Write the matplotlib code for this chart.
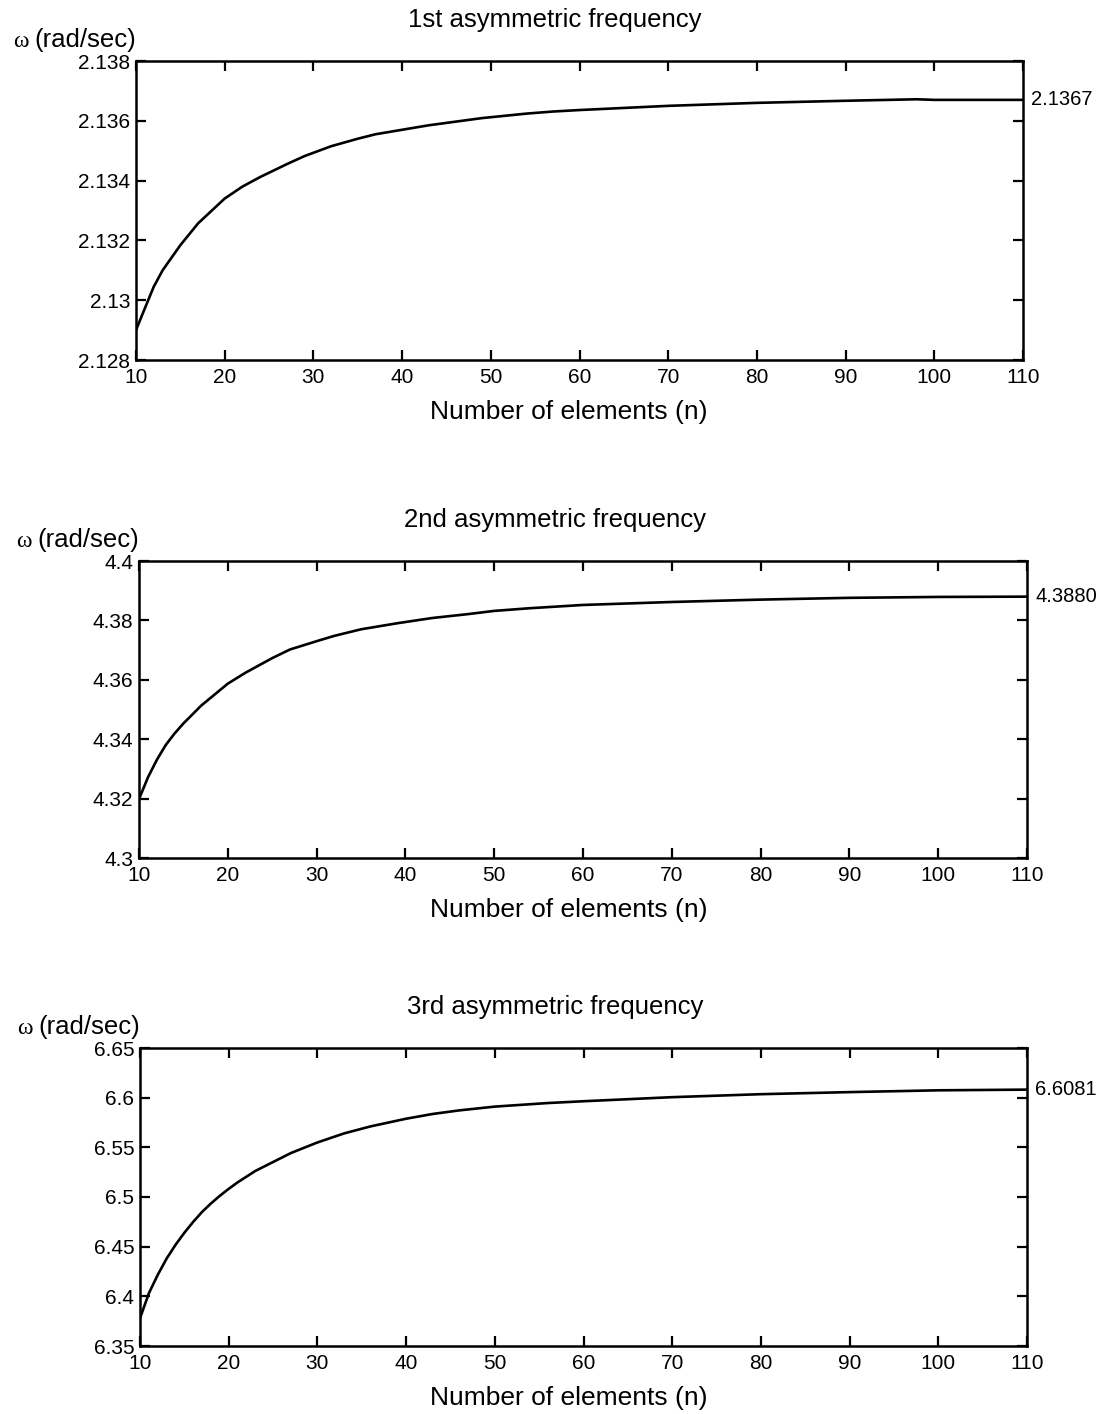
import matplotlib
matplotlib.use("Agg")
import matplotlib.pyplot as plt

plt.rcParams["font.family"] = ["Liberation Sans", "DejaVu Sans"]

# 1st asymmetric frequency
N1 = [10, 11, 12, 13, 15, 17, 20, 22, 24, 27, 29, 32, 35, 37, 40, 43, 46, 49, 51,
      54, 57, 60, 70, 80, 90, 98, 100, 110]
W1 = [2.1290, 2.12973, 2.13045, 2.13100, 2.13184, 2.13257, 2.13340, 2.13380,
      2.13412, 2.13455, 2.13482, 2.13515, 2.13540, 2.13555, 2.13570, 2.13585,
      2.13597, 2.13609, 2.13615, 2.13624, 2.13631, 2.13636, 2.13650, 2.13660,
      2.13667, 2.13672, 2.13670, 2.1367]

# 2nd asymmetric frequency
N2 = [10, 11, 12, 13, 14, 15, 17, 20, 22, 25, 27, 30, 32, 35, 39, 43, 47, 50,
      54, 60, 70, 80, 90, 100, 110]
W2 = [4.3198, 4.3271, 4.3330, 4.3380, 4.3419, 4.3453, 4.3513, 4.3587, 4.3624,
      4.3673, 4.3702, 4.3730, 4.3748, 4.3770, 4.3790, 4.3808, 4.3821, 4.3832,
      4.3841, 4.3852, 4.3862, 4.3870, 4.3876, 4.3879, 4.3880]

# 3rd asymmetric frequency
N3 = [10, 11, 12, 13, 14, 15, 16, 17, 18, 19, 20, 21, 23, 27, 30, 33, 36, 40,
      43, 46, 50, 56, 60, 70, 80, 90, 100, 110]
W3 = [6.3779, 6.4031, 6.4216, 6.4380, 6.4518, 6.4640, 6.4750, 6.4850, 6.4935,
      6.5012, 6.5082, 6.5147, 6.5262, 6.5442, 6.5549, 6.5640, 6.5711, 6.5788,
      6.5836, 6.5872, 6.5910, 6.5946, 6.5964, 6.6005, 6.6035, 6.6056, 6.6074,
      6.6081]

TITLES = ["1st asymmetric frequency", "2nd asymmetric frequency",
          "3rd asymmetric frequency"]
END_LABELS = ["2.1367", "4.3880", "6.6081"]
YTICKS = [
    [2.128, 2.13, 2.132, 2.134, 2.136, 2.138],
    [4.3, 4.32, 4.34, 4.36, 4.38, 4.4],
    [6.35, 6.4, 6.45, 6.5, 6.55, 6.6, 6.65],
]
XTICKS = list(range(10, 111, 10))

W, H = 1099, 1414
# axes boxes in pixels: left, top, right, bottom
BOXES = [(136, 61, 1023, 360), (139, 561, 1027, 858), (140, 1048, 1027, 1346)]

fig = plt.figure(figsize=(W / 100, H / 100), dpi=100)

for (n, w), title, end, yt, box in zip([(N1, W1), (N2, W2), (N3, W3)], TITLES,
                                       END_LABELS, YTICKS, BOXES):
    l, t, r, b = box
    ax = fig.add_axes([l / W, 1 - b / H, (r - l) / W, (b - t) / H])
    ax.plot(n, w, color="black", linewidth=1.9)
    ax.set_xlim(10, 110)
    ax.set_ylim(yt[0], yt[-1])
    ax.set_xticks(XTICKS)
    ax.set_yticks(yt)
    ax.set_yticklabels([f"{v:g}" for v in yt])
    ax.tick_params(direction="in", top=True, right=True, length=7, width=1.6,
                   labelsize=15, pad=4)
    ax.tick_params(axis="x", pad=6)
    for s in ax.spines.values():
        s.set_linewidth(1.8)

    # title, x label and the "ω (rad/sec)" label above the y axis
    fig.text(555 / W, 1 - (t - 41) / H, title, ha="center", va="center", fontsize=18.5)
    fig.text(569 / W, 1 - (b + 52) / H, "Number of elements (n)", ha="center",
             va="center", fontsize=19)
    ax.annotate("(rad/sec)", xy=(0, 1), xycoords="axes fraction", xytext=(0, 15),
                textcoords="offset points", ha="right", va="center", fontsize=18.5)
    ax.annotate("ω", xy=(0, 1), xycoords="axes fraction", xytext=(-77, 14),
                textcoords="offset points", ha="right", va="center", fontsize=17,
                family=["Liberation Serif", "DejaVu Serif"])

    ax.annotate(end, xy=(n[-1], w[-1]), xytext=(6, 0), textcoords="offset points",
                ha="left", va="center", fontsize=14.5, annotation_clip=False)

fig.savefig("out.png", dpi=100)
